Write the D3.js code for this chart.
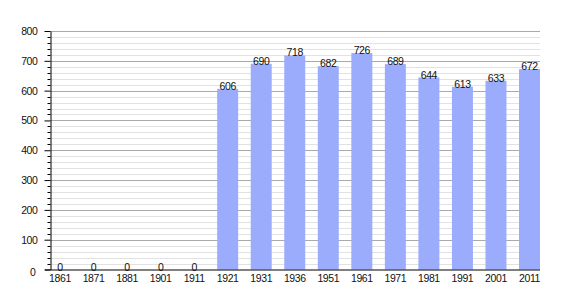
<!DOCTYPE html>
<html>
<head>
<meta charset="utf-8">
<script src="https://cdn.jsdelivr.net/npm/d3@7"></script>
<style>
body{margin:0;background:#fff;}
text{font-family:"Liberation Sans",Arial,sans-serif;font-size:10.5px;letter-spacing:-0.4px;fill:#111;}
</style>
</head>
<body>
<svg width="570" height="300"></svg>
<script>
var years = ["1861","1871","1881","1901","1911","1921","1931","1936","1951","1961","1971","1981","1991","2001","2011"];
var population = [0,0,0,0,0,606,690,718,682,726,689,644,613,633,672];
var majorTicks = [0,100,200,300,400,500,600,700,800];

window.onload=function(){
	var svg = d3.select("svg");
	var left = 50.5, right = 540, top = 31, bottom = 269.5;

	var x = d3.scaleBand().domain(years).range([49.5,right]).paddingInner(0.374).paddingOuter(0);
	var y = d3.scaleLinear().domain([0,800]).range([bottom,top]);
	var minor = d3.range(0,801,20);

	//grid
	svg.append("g").selectAll("line").data(minor.filter(function(d){return d%100;}))
		.enter().append("line")
		.attr("x1",left).attr("x2",right)
		.attr("y1",function(d){return Math.round(y(d))+0.5;})
		.attr("y2",function(d){return Math.round(y(d))+0.5;})
		.attr("stroke","#e2e2e2");
	svg.append("g").selectAll("line").data(majorTicks.slice(1))
		.enter().append("line")
		.attr("x1",left).attr("x2",right)
		.attr("y1",function(d){return Math.round(y(d))+0.5;})
		.attr("y2",function(d){return Math.round(y(d))+0.5;})
		.attr("stroke","#aaaaaa");

	//bars
	svg.append("g").selectAll("rect").data(population)
		.enter().append("rect")
		.attr("x",function(d,i){return x(years[i]);})
		.attr("width",x.bandwidth())
		.attr("y",function(d){return y(d);})
		.attr("height",function(d){return bottom-y(d);})
		.attr("fill","#9bacfc");

	//values
	svg.append("g").selectAll("text").data(population)
		.enter().append("text")
		.attr("x",function(d,i){return x(years[i])+x.bandwidth()/2;})
		.attr("y",function(d){return y(d)+1;})
		.attr("text-anchor","middle")
		.text(function(d){return d;});

	//y axis
	var ya = svg.append("g").attr("transform","translate("+left+",0)")
		.call(d3.axisLeft(y).tickValues(majorTicks).tickSize(6).tickSizeOuter(0).tickPadding(7).tickFormat(d3.format("d")));
	ya.select(".domain").attr("stroke","#000");
	ya.selectAll("text").style("font-size","10.5px").attr("fill","#111");
	ya.selectAll(".tick").filter(function(d){return d==0;}).select("text").attr("x",-15).attr("dy","0.55em");
	svg.append("g").selectAll("line").data(minor.filter(function(d){return d%100;}))
		.enter().append("line")
		.attr("x1",left-3).attr("x2",left)
		.attr("y1",function(d){return Math.round(y(d))+0.5;})
		.attr("y2",function(d){return Math.round(y(d))+0.5;})
		.attr("stroke","#000");

	//x axis
	var xa = svg.append("g").attr("transform","translate(0,"+bottom+")")
		.call(d3.axisBottom(x).tickSize(0).tickPadding(5));
	xa.select(".domain").attr("d","M45,0.5H"+right).attr("stroke","#000");
	xa.selectAll("text").style("font-size","10.5px").attr("fill","#111");
};
</script>
</body>
</html>
